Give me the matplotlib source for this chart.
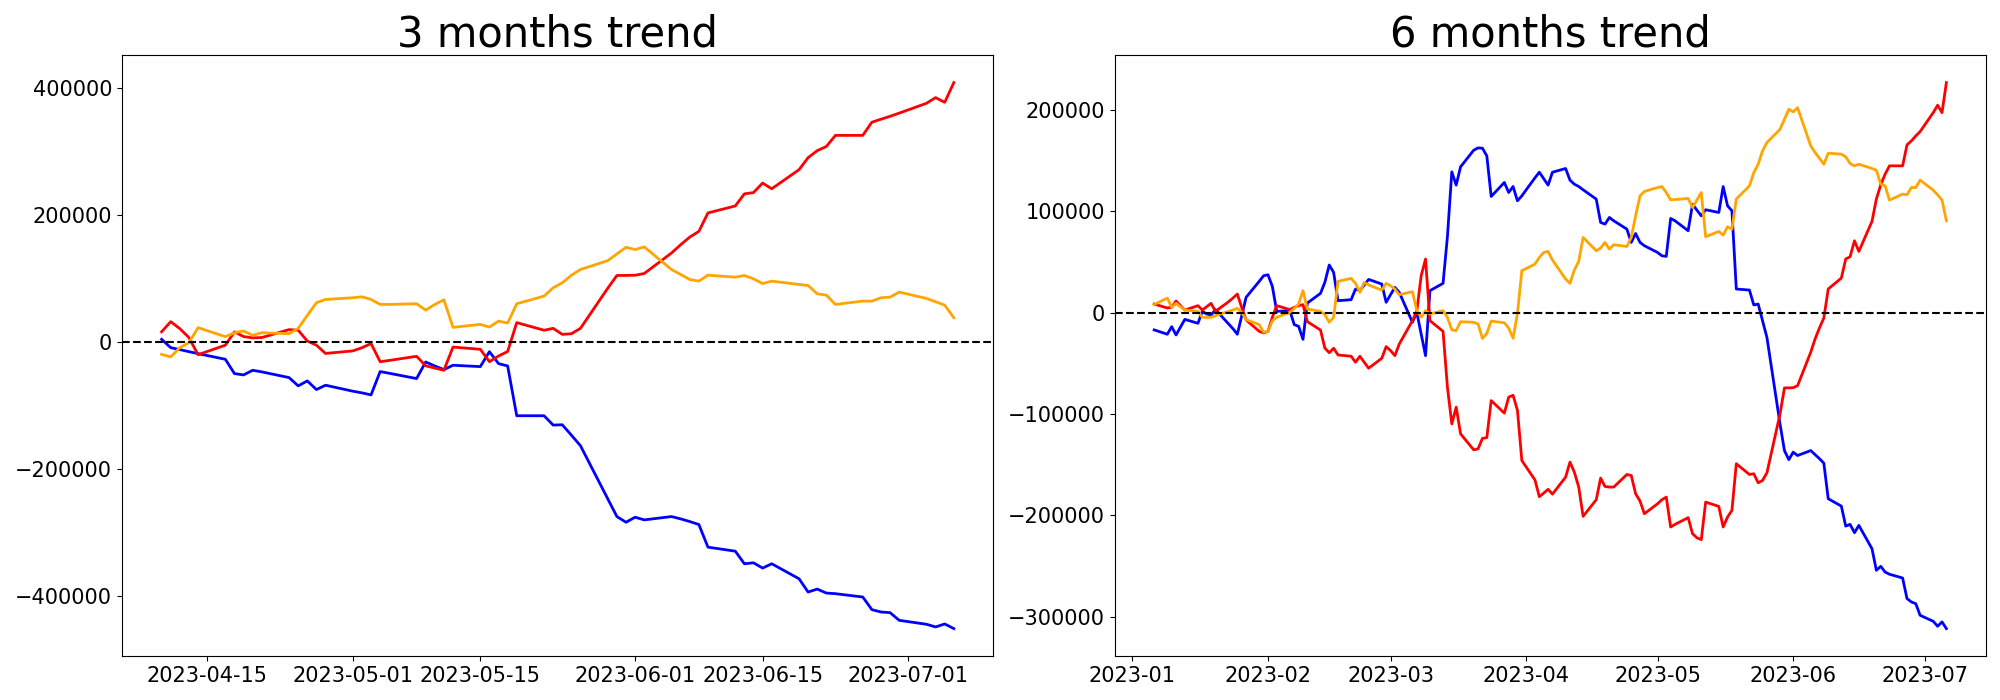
# plot.py
# Two panels: 3 month and 6 month net position trend (blue / red / orange).
# Run: python plot.py

import numpy as np
import pandas as pd
import matplotlib.pyplot as plt
import matplotlib.dates as mdates

OUT_FILE = "out.png"

# ---- 3 months panel (business days 2023-04-10 .. 2023-07-06), values in thousands
dates_3m = pd.bdate_range("2023-04-10", "2023-07-06")

blue_3m = [
    4.2, -8.9, -12, -15.2, -18.3,
    -27.2, -49.7, -51.8, -44.5, -47,
    -56, -69, -61.2, -74.8, -68,
    -77.4, -80, -83.2, -46.5, -49.2,
    -57.5, -31.4, -37.7, -43.4, -36.6,
    -38.7, -15.2, -34, -37.7, -116,
    -116, -130.7, -130.2, -146.5, -163.2,
    -246.8, -274.6, -283.5, -275.6, -279.8,
    -274.6, -278.2, -282.4, -287.1, -322.7,
    -329, -348.8, -347.3, -355.6, -348.8,
    -372.4, -393.3, -388.6, -394.9, -395.9,
    -401.1, -421, -424.7, -425.7, -437.8,
    -444, -448.2, -443.5, -450.8,
]
red_3m = [
    16, 32, 21, 7, -20,
    -5, 16, 8.5, 6.5, 7,
    19.5, 18.5, 1.5, -5, -18,
    -14, -9, -2.5, -31, -29,
    -22.5, -37.5, -41, -44.5, -8,
    -11.5, -31, -22, -15, 30.5,
    18.5, 21.5, 12, 13, 21.5,
    84.7, 104.6, 104.7, 105, 107.7,
    140, 153, 165, 174, 203,
    214, 233, 235, 250, 241,
    271, 290, 301, 307.5, 325,
    325, 345.7, 350.4, 355, 360,
    375.5, 384.4, 377, 408,
]
orange_3m = [
    -19.4, -23.5, -8.9, -1, 22.5,
    8.4, 14.6, 17.3, 10.5, 14.6,
    13.1, 21.4, 41.8, 61.7, 66.9,
    69.6, 71.1, 66.9, 59.1, 59.1,
    60.2, 50.2, 59, 66.4, 23,
    27.7, 23.5, 32.9, 29.8, 60.2,
    72.2, 85.3, 93.1, 105, 114,
    128, 138.6, 149, 145.4, 149.6,
    114, 106.2, 98.3, 95.7, 105.1,
    102, 104.6, 99.4, 92, 95.7,
    90.5, 88.9, 75.8, 73.7, 59.1,
    64.3, 64.3, 69.6, 70.6, 78.5,
    68.5, 63.3, 58, 38.2,
]

# ---- 6 months panel (business days 2023-01-06 .. 2023-07-06), values in thousands
dates_6m = pd.bdate_range("2023-01-06", "2023-07-06")

blue_6m = [
    -17, -21.3, -13.8, -22, -14.4, -6.6,
    -10.5, 1.3, -1.3, -2.3, 3,
    -11.2, -15.8, -21.3, -3, 15.1,
    30.9, 36.4, 37.4, 25.9, 1.3,
    2, -11.8, -13.5, -26.3, 9.5,
    19, 30, 47, 39.7, 11.8,
    12.8, 23.3, 21.7, 27.3, 32.8,
    28.2, 10.2, 17.7, 24.9, 20,
    -9.5, 0.3, -21, -42.4, 21.7,
    28.9, 75, 138.9, 125.8, 143.8,
    160.2, 162.5, 162.2, 154.6, 114.6,
    128.4, 118.5, 124.4, 110.3, 115.2,
    133, 138.5, 132.2, 125.8, 138.5,
    142.2, 130.7, 126.7, 124.4, 121.2,
    112, 89, 87.3, 93.9, 90.6,
    82.4, 69.3, 78.1, 69.3, 66,
    59.4, 56.1, 55.5, 92.9, 90.6,
    80.8, 107, 101.1, 95.5, 101.5,
    98.8, 124.4, 105.4, 100.5, 23.3,
    22.3, 7.6, 8.5, -7.9, -24.5,
    -110, -136, -145, -137.6, -140.9,
    -136, -140, -144, -148.4, -183.5,
    -190.8, -210.5, -208.8, -217, -209.8,
    -232.8, -254.1, -250.2, -255.8, -258,
    -261.7, -282, -285.3, -287, -298.5,
    -304.4, -309.3, -305, -311.6,
]
red_6m = [
    8.5, 4.6, 5.3, 11.5, 6.9, 2.6,
    6.9, 2.6, 5.9, 9.2, 1.3,
    10.8, 14.4, 18.4, 5, -7.2,
    -18.4, -20, -18.4, -4.6, 6.9,
    3, 5.3, 6.9, 7.9, -8.9,
    -17.1, -35, -39.5, -35.1, -41.7,
    -43, -48.9, -43, -48.9, -54.8,
    -45, -33.5, -37.4, -42.4, -30.9,
    -7.9, 1.3, 36.4, 52.9, -7.9,
    -18.4, -73.5, -109.7, -93.2, -119.5,
    -135.3, -134.3, -124, -123.3, -86.7,
    -99.1, -83.3, -81.5, -96.4, -145.8,
    -165, -181.5, -178, -174.2, -179,
    -162.2, -147.4, -157.3, -172, -200.9,
    -184.5, -163.2, -171.4, -172, -172,
    -159.6, -160.6, -178.6, -185.8, -198.3,
    -188.5, -184.5, -181.9, -211.4, -208.8,
    -202.2, -218, -222, -223.9, -186.8,
    -191.1, -211.4, -201.6, -195, -149,
    -159.6, -158.9, -167.8, -165.5, -157.9,
    -99.8, -74.2, -74.2, -74, -72,
    -39.1, -25.9, -15.1, -5.3, 23.3,
    34.1, 52.9, 55.2, 70.9, 60.4,
    90, 112, 126.1, 136.6, 144.8,
    144.8, 165.5, 169.4, 174.3, 178.6,
    197.3, 204.6, 197.3, 226.9,
]
orange_6m = [
    8, 14.4, 5.3, 9.2, 5.9, 2.6,
    1.3, -4.6, -4.6, -4.6, -3,
    1.3, 2.6, 4.3, 0.3, -6.9,
    -11.8, -19.4, -18.4, -7.9, -4.6,
    0.3, 4.3, 8.5, 21.7, 3.6,
    1.3, -2, -9.5, -4.6, 30.9,
    33.8, 28.9, 20, 29.9, 27.3,
    22.3, 28.9, 26.6, 23.3, 17.7,
    20.7, 2, -4.6, 2, -1.3,
    2, -4.6, -17, -17.7, -8.9,
    -9.5, -11.2, -25.5, -20.3, -8.3,
    -10, -15.2, -25.3, -0.7, 41.4,
    47.9, 54.5, 59.4, 60.4, 51.9,
    33.2, 28.9, 42, 50.6, 74.2,
    61.1, 63.7, 69.3, 62.7, 67,
    65.3, 74.2, 95.5, 115.2, 119.5,
    123.4, 124.4, 118.5, 111.3, 111.6,
    112.6, 103.7, 111, 118.5, 74.9,
    80.1, 76.5, 84.7, 82.4, 112,
    125.1, 138.2, 146.4, 159.6, 167.8,
    180.9, 190.8, 200.6, 198, 202.2,
    164.5, 157.9, 152.3, 146.4, 157.3,
    156.3, 153.7, 147.1, 144.8, 146.4,
    142.2, 140.5, 126.7, 125.1, 111,
    116.9, 116.2, 123.4, 123.4, 130.7,
    120.8, 116.2, 111, 90.6,
]


def draw_panel(ax, dates, blue, red, orange, title):
    ax.plot(dates, np.array(blue) * 1000, color="blue", linewidth=2)
    ax.plot(dates, np.array(red) * 1000, color="red", linewidth=2)
    ax.plot(dates, np.array(orange) * 1000, color="orange", linewidth=2)
    ax.axhline(0, color="black", linestyle="--", linewidth=1.5)
    ax.set_title(title, fontsize=30)
    ax.tick_params(labelsize=15)


def main():
    fig, (ax1, ax2) = plt.subplots(1, 2, figsize=(20, 7), dpi=100)

    draw_panel(ax1, dates_3m, blue_3m, red_3m, orange_3m, "3 months trend")
    ax1.xaxis.set_major_locator(mdates.DayLocator(bymonthday=[1, 15]))
    ax1.xaxis.set_major_formatter(mdates.DateFormatter("%Y-%m-%d"))

    draw_panel(ax2, dates_6m, blue_6m, red_6m, orange_6m, "6 months trend")
    ax2.xaxis.set_major_locator(mdates.MonthLocator())
    ax2.xaxis.set_major_formatter(mdates.DateFormatter("%Y-%m"))

    fig.subplots_adjust(left=0.061, right=0.993, bottom=0.063, top=0.921, wspace=0.139)
    fig.savefig(OUT_FILE)
    plt.close(fig)
    print("Saved plot to:", OUT_FILE)


if __name__ == "__main__":
    main()
